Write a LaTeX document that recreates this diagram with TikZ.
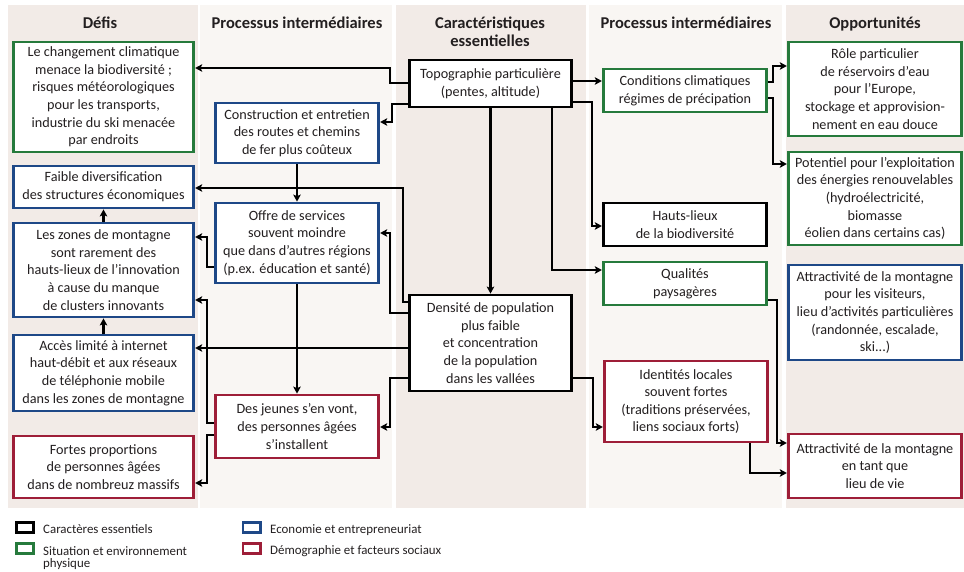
\documentclass[tikz,border=0pt]{standalone}
\usepackage{fontspec}
\setmainfont{Carlito}
\usetikzlibrary{arrows.meta}
\definecolor{bgA}{RGB}{242,235,231}
\definecolor{bgB}{RGB}{249,246,243}
\definecolor{cgreen}{RGB}{38,122,60}
\definecolor{cblue}{RGB}{30,72,135}
\definecolor{cred}{RGB}{158,30,56}
\definecolor{ctext}{RGB}{35,31,32}
\begin{document}
\begin{tikzpicture}[x=1pt,y=-1pt,
 box/.style={draw, line width=2.8pt, fill=white, inner sep=0pt, align=center, text=ctext, font=\fontsize{14.2}{17.6}\selectfont},
 bk/.style={box, draw=black},
 gr/.style={box, draw=cgreen},
 bl/.style={box, draw=cblue},
 rd/.style={box, draw=cred},
 wA/.style={minimum width=180.5pt},
 wB/.style={minimum width=163.5pt},
 wC/.style={minimum width=162.5pt},
 wD/.style={minimum width=173.5pt},
 arr/.style={line width=2.4pt, -{Stealth[length=7pt,width=7.5pt,inset=1.5pt]}},
 head/.style={font=\fontsize{16.5}{18}\selectfont\bfseries, text=ctext, align=center, inner sep=0pt},
 legbox/.style={line width=2.6pt, inner sep=0pt, minimum width=17.4pt, minimum height=10.4pt},
 leg/.style={font=\fontsize{12.9}{12}\selectfont, text=ctext, align=left, inner sep=0pt}
]
\useasboundingbox (0,0) rectangle (964,571);
% column backgrounds
\fill[bgA] (8,5) rectangle (198,508);
\fill[bgB] (200,5) rectangle (392,508);
\fill[bgA] (396,5) rectangle (586,508);
\fill[bgB] (589,5) rectangle (782,508);
\fill[bgA] (786,5) rectangle (964,508);
% headers
\node[head, anchor=base] (h1) at (100,28) {Défis};
\node[head, anchor=base] (h2) at (297,28) {Processus intermédiaires};
\node[head, anchor=north] (h3) at (490,16.5) {Caractéristiques\\essentielles};
\node[head, anchor=base] (h4) at (686,28) {Processus intermédiaires};
\node[head, anchor=base] (h5) at (875,28) {Opportunités};
% column 1
\node[gr, wA, minimum height=110pt] (b1) at (103.5,97) {Le changement climatique\\menace la biodiversité ;\\risques météorologiques\\pour les transports,\\industrie du ski menacée\\par endroits};
\node[bl, wA, minimum height=42pt] (b2) at (103.5,187) {Faible diversification\\des structures économiques};
\node[bl, wA, minimum height=94pt] (b3) at (103.5,270) {Les zones de montagne\\sont rarement des\\hauts-lieux de l'innovation\\à cause du manque\\de clusters innovants};
\node[bl, wA, minimum height=76pt] (b4) at (103.5,373) {Accès limité à internet\\haut-débit et aux réseaux\\de téléphonie mobile\\dans les zones de montagne};
\node[rd, wA, minimum height=62pt] (b5) at (103.5,467) {Fortes proportions\\de personnes âgées\\dans de nombreuz massifs};
% column 2
\node[bl, wB, minimum height=60pt] (c1) at (297,133) {Construction et entretien\\des routes et chemins\\de fer plus coûteux};
\node[bl, wB, minimum height=80pt] (c2) at (297,243) {Offre de services\\souvent moindre\\que dans d'autres régions\\(p.ex. éducation et santé)};
\node[rd, wB, minimum height=63pt] (c3) at (297,426.5) {Des jeunes s'en vont,\\des personnes âgées\\s'installent};
% column 3
\node[bk, wC, minimum height=47pt] (d1) at (490.5,83.5) {Topographie particulière\\(pentes, altitude)};
\node[bk, wC, minimum height=96pt] (d2) at (490.5,343) {Densité de population\\plus faible\\et concentration\\de la population\\dans les vallées};
% column 4
\node[gr, wB, minimum height=43pt] (e1) at (685,90.5) {Conditions climatiques\\régimes de précipation};
\node[bk, wB, minimum height=43pt] (e2) at (685,224.5) {Hauts-lieux\\de la biodiversité};
\node[gr, wB, minimum height=43pt] (e3) at (685,283.5) {Qualités\\paysagères};
\node[rd, wB, minimum height=81pt] (e4) at (686,401.5) {Identités locales\\souvent fortes\\(traditions préservées,\\liens sociaux forts)};
% column 5
\node[gr, wD, minimum height=94pt] (f1) at (875,89) {Rôle particulier\\de réservoirs d'eau\\pour l'Europe,\\stockage et approvision-\\nement en eau douce};
\node[gr, wD, minimum height=93pt] (f2) at (875,198.5) {Potentiel pour l'exploitation\\des énergies renouvelables\\(hydroélectricité,\\biomasse\\éolien dans certains cas)};
\node[bl, wD, minimum height=95pt] (f3) at (875,312.5) {Attractivité de la montagne\\pour les visiteurs,\\lieu d'activités particulières\\(randonnée, escalade,\\ski...)};
\node[rd, wD, minimum height=64pt] (f4) at (875,466) {Attractivité de la montagne\\en tant que\\lieu de vie};
% connectors
\draw[arr] (d1.west |- 0,83) -- (390,83) -- (390,68) -- (b1.east |- 0,68);
\draw[arr] (d1.west |- 0,104) -- (392,104) -- (392,122) -- (c1.east |- 0,122);
\draw[arr] (c1.south) -- (c2.north);
\draw[arr] (d2.west |- 0,302) -- (403,302) -- (403,188) -- (b2.east |- 0,188);
\draw[arr] (d2.west |- 0,313) -- (390,313) -- (390,233) -- (c2.east |- 0,233);
\draw[arr] (d2.west |- 0,348) -- (b4.east |- 0,348);
\draw[arr] (d2.west |- 0,378) -- (390,378) -- (390,427) -- (c3.east |- 0,427);
\draw[arr] (c2.west |- 0,267) -- (207,267) -- (207,237) -- (b3.east |- 0,237);
\draw[arr] (c3.west |- 0,423) -- (207,423) -- (207,300) -- (b3.east |- 0,300);
\draw[arr] (c3.west |- 0,435) -- (207,435) -- (207,483) -- (b5.east |- 0,483);
\draw[arr] (c2.south) -- (c3.north);
\draw[arr] (b3.north) -- (b2.south);
\draw[arr] (b4.north) -- (b3.south);
\draw[arr] (d1.south) -- (d2.north);
\draw[arr] (d1.south -| 552,0) -- (552,270) -- (e3.west |- 0,270);
\draw[arr] (d1.east |- 0,81) -- (e1.west |- 0,81);
\draw[arr] (d1.east |- 0,102) -- (592,102) -- (592,226) -- (e2.west |- 0,226);
\draw[arr] (e1.east |- 0,82) -- (773,82) -- (773,66) -- (f1.west |- 0,66);
\draw[arr] (e1.east |- 0,98) -- (773,98) -- (773,164) -- (f2.west |- 0,164);
\draw[arr] (e3.east |- 0,300) -- (777,300) -- (777,443) -- (f4.west |- 0,443);
\draw[arr] (e4.south -| 750,0) -- (750,473) -- (f4.west |- 0,473);
\draw[arr] (d2.east |- 0,378) -- (593,378) -- (593,427) -- (e4.west |- 0,427);
% legend
\node[legbox, draw=black] (k1) at (25,527.5) {};
\node[legbox, draw=cgreen] (k2) at (25,548.5) {};
\node[legbox, draw=cblue] (k3) at (251.5,527.5) {};
\node[legbox, draw=cred] (k4) at (251.5,548.5) {};
\node[leg, anchor=base west] (l1) at (43,533) {Caractères essentiels};
\node[leg, anchor=north west] (l2) at (43,546) {Situation et environnement\\physique};
\node[leg, anchor=base west] (l3) at (270,533) {Economie et entrepreneuriat};
\node[leg, anchor=base west] (l4) at (270,554) {Démographie et facteurs sociaux};
\end{tikzpicture}
\end{document}
